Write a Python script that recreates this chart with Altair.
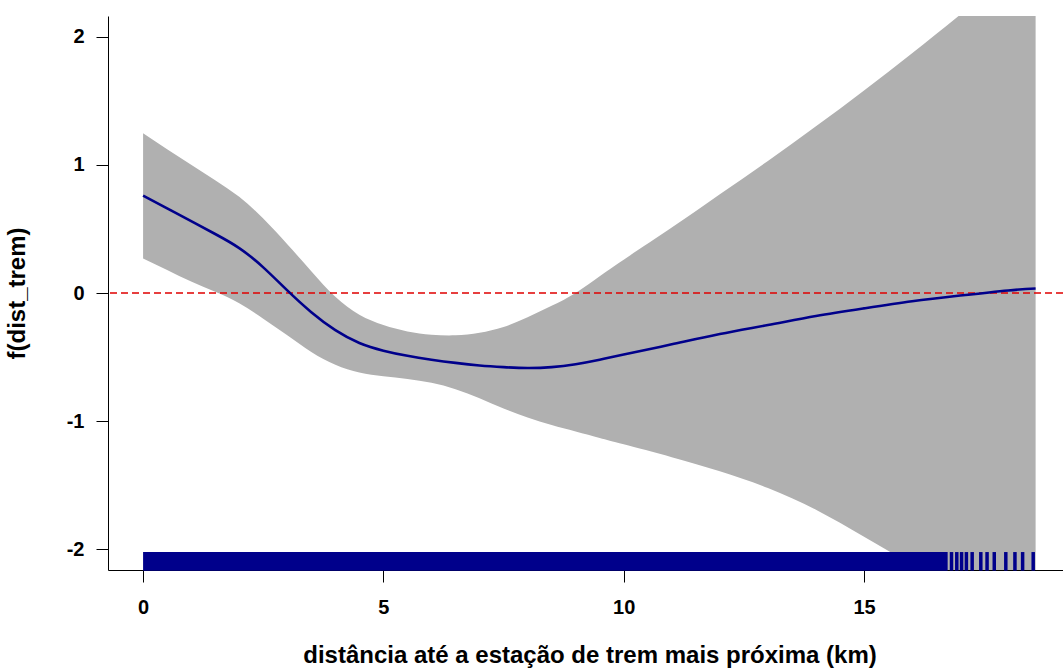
import altair as alt
import pandas as pd

# Estimated smooth term f(dist_trem) with its confidence band, on a grid of distances (km)
dist_km = [0, 0.5, 1, 1.5, 2, 2.5, 3, 3.5, 4, 4.5, 5, 5.5, 6, 6.5, 7, 7.5, 8, 8.5,
           9, 9.5, 10, 11, 12, 13, 14, 15, 16, 17, 18, 18.57]
fit = [0.76, 0.66, 0.56, 0.46, 0.35, 0.20, 0.02, -0.15, -0.29, -0.39, -0.45, -0.49,
       -0.52, -0.545, -0.565, -0.578, -0.585, -0.578, -0.555, -0.52, -0.48, -0.40,
       -0.32, -0.25, -0.18, -0.12, -0.065, -0.02, 0.02, 0.035]
upper = [1.245, 1.12, 1.0, 0.88, 0.75, 0.58, 0.38, 0.17, -0.03, -0.17, -0.25, -0.30,
         -0.325, -0.33, -0.31, -0.265, -0.19, -0.10, 0.0, 0.13, 0.26, 0.51, 0.77,
         1.03, 1.30, 1.58, 1.87, 2.17, 2.48, 2.66]
lower = [0.27, 0.18, 0.09, 0.01, -0.08, -0.20, -0.33, -0.46, -0.56, -0.62, -0.65, -0.67,
         -0.70, -0.75, -0.82, -0.90, -0.97, -1.03, -1.08, -1.13, -1.18, -1.28, -1.39,
         -1.52, -1.69, -1.90, -2.12, -2.37, -2.64, -2.80]

# Rug of observed distances: a continuous run of observations, then isolated ones
rug_dense_start = [0.0]
rug_dense_end = [16.74]
rug_sparse = [16.82, 16.93, 17.03, 17.13, 17.25, 17.43, 17.56, 17.71, 17.95,
              18.14, 18.30, 18.52]

x_ticks = [0, 5, 10, 15]
y_ticks = [-2, -1, 0, 1, 2]

X_DOMAIN = [-0.73, 19.14]
Y_DOMAIN = [-2.16, 2.16]
RUG_BOTTOM = -2.165
RUG_TOP = -2.02

NAVY = "#00008B"
FONT = "Liberation Sans"

curve = pd.DataFrame({"dist": dist_km, "fit": fit, "upper": upper, "lower": lower})
dense = pd.DataFrame({"start": rug_dense_start, "end": rug_dense_end})
sparse = pd.DataFrame({"dist": rug_sparse})
zero = pd.DataFrame({"y": [0]})

x_scale = alt.Scale(domain=X_DOMAIN, nice=False, zero=False)
y_scale = alt.Scale(domain=Y_DOMAIN, nice=False, zero=False)

x_axis = alt.Axis(
    values=x_ticks,
    title="distância até a estação de trem mais próxima (km)",
    titleX=481.5,
    titleY=92,
    titleBaseline="alphabetic",
    titleAlign="center",
    labelPadding=15,
    labelFlush=False,
    labelExpr="'' + datum.value",
)
y_axis = alt.Axis(
    values=y_ticks,
    title="f(dist_trem)",
    titleAngle=270,
    titleX=-84,
    titleY=277,
    titleBaseline="alphabetic",
    titleAlign="center",
    labelPadding=12,
    labelExpr="'' + datum.value",
)

band = alt.Chart(curve).mark_area(
    color="#B0B0B0", interpolate="natural", clip=True
).encode(
    x=alt.X("dist:Q", scale=x_scale, axis=x_axis),
    y=alt.Y("upper:Q", scale=y_scale, axis=y_axis),
    y2="lower:Q",
)

zero_line = alt.Chart(zero).mark_rule(
    color="#E00000", strokeDash=[7, 4], strokeWidth=1.4
).encode(y=alt.Y("y:Q", scale=y_scale))

line = alt.Chart(curve).mark_line(
    color=NAVY, strokeWidth=2.6, interpolate="natural", clip=True
).encode(
    x=alt.X("dist:Q", scale=x_scale),
    y=alt.Y("fit:Q", scale=y_scale),
)

rug_block = alt.Chart(dense).mark_rect(color=NAVY).encode(
    x=alt.X("start:Q", scale=x_scale),
    x2="end:Q",
    y=alt.datum(RUG_BOTTOM, scale=y_scale),
    y2=alt.datum(RUG_TOP),
)

rug_ticks = alt.Chart(sparse).mark_rule(color=NAVY, strokeWidth=3.5).encode(
    x=alt.X("dist:Q", scale=x_scale),
    y=alt.datum(RUG_BOTTOM, scale=y_scale),
    y2=alt.datum(RUG_TOP),
)

chart = alt.layer(band, zero_line, line, rug_block, rug_ticks).properties(
    width=955,
    height=554,
    autosize=alt.AutoSizeParams(type="none"),
    padding={"left": 108, "top": 16, "right": 0, "bottom": 100},
    background="white",
).configure_view(
    stroke=None
).configure_axis(
    grid=False,
    domainColor="#000000",
    domainWidth=1,
    tickColor="#000000",
    tickWidth=1,
    tickSize=12,
    labelFont=FONT,
    labelFontWeight="bold",
    labelFontSize=20,
    labelColor="#000000",
    titleFont=FONT,
    titleFontWeight="bold",
    titleFontSize=24,
    titleColor="#000000",
)

chart.save("out.html", embed_options={"renderer": "svg", "actions": False})
